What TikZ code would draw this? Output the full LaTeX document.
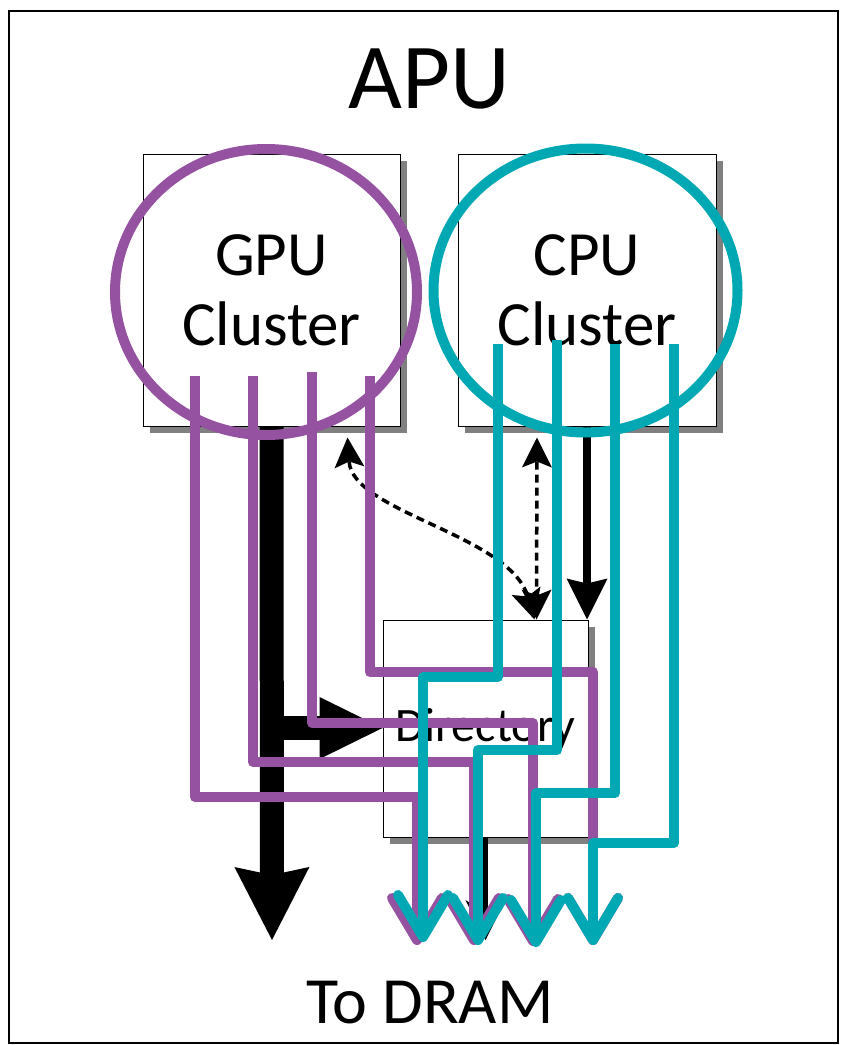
\documentclass[tikz,border=0pt]{standalone}
\usepackage{fontspec}
\setmainfont{Carlito}
\usetikzlibrary{arrows.meta,shadows}
\definecolor{gpupurple}{RGB}{148,82,160}
\definecolor{cputeal}{RGB}{0,168,180}
\begin{document}
\begin{tikzpicture}[x=1pt,y=-1pt,
  unit/.style={draw, line width=1pt, fill=white, align=center, inner sep=0pt,
    drop shadow={shadow xshift=7pt, shadow yshift=-7pt, fill=gray, opacity=1}},
  ring/.style={line width=10pt},
  lane/.style={line width=10pt, line join=round, -{Straight Barb[length=42pt, width=50pt, round]}},
  bus/.style={line width=24pt},
  coh/.style={line width=3.5pt, dash pattern=on 8pt off 5pt,
    {Stealth[length=30pt, width=30pt, inset=6pt, line width=0pt]}-{Stealth[length=30pt, width=30pt, inset=6pt, line width=0pt]}}]
\useasboundingbox (0,0) rectangle (842,1045);
\draw[line width=1.5pt] (9,11) rectangle (838,1043);
\node[font=\fontsize{93}{93}\selectfont] (apu) at (429,79) {APU};
\node[font=\fontsize{66}{66}\selectfont] (dram) at (430,1003) {To DRAM};
\node[unit, minimum width=257pt, minimum height=272pt, font=\fontsize{63}{70}\selectfont] (gpu) at (271.5,290) {GPU\\Cluster};
\node[unit, minimum width=258pt, minimum height=272pt, font=\fontsize{63}{70}\selectfont] (cpu) at (587,290) {CPU\\Cluster};
\node[unit, minimum width=205pt, minimum height=217pt, font=\fontsize{48}{48}\selectfont] (dir) at (485.5,728.5) {Directory};
\coordinate (gdram) at (272,940);
\coordinate (split) at (272,728);
\draw[line width=5pt, -{Stealth[length=40pt, width=40pt, line width=0pt]}] (dir.south) -- (dir.south |- gdram);
\draw[bus, -{Stealth[length=73pt, width=75pt, inset=8pt, line width=0pt]}] (gpu.south) -- (gdram);
\draw[bus, -{Triangle[length=63pt, width=62pt, line width=0pt]}] (split) -- (split -| dir.west);
\draw[line width=8pt, -{Stealth[length=41pt, width=41pt, inset=5pt, line width=0pt]}] (cpu.south) -- (cpu.south |- dir.north);
\draw[coh] ([xshift=-50pt, yshift=-11pt]cpu.south) -- ([xshift=51pt]dir.north);
\draw[coh] ([xshift=76pt, yshift=-11pt]gpu.south) .. controls +(5,75) and +(-25,-85) .. ([xshift=49pt]dir.north);
\draw[ring, gpupurple] (266,292) ellipse [x radius=151pt, y radius=143pt];
\draw[ring, cputeal] (585.5,290.5) ellipse [x radius=152pt, y radius=142pt];
\coordinate (g1) at (195,376);
\coordinate (g2) at (253,376);
\coordinate (g3) at (312,372);
\coordinate (g4) at (370,376);
\coordinate (c1) at (498,344);
\coordinate (c2) at (557,340);
\coordinate (c3) at (615,344);
\coordinate (c4) at (674,344);
\draw[lane, gpupurple] (g1) |- (417,797) -- (417,945);
\draw[lane, gpupurple] (g2) |- (474,762) -- (474,945);
\draw[lane, gpupurple] (g3) |- (533,723) -- (533,946);
\draw[lane, gpupurple] (g4) |- (593,672) -- (593,945);
\draw[lane, cputeal] (c1) |- (423,677) -- (423,942);
\draw[lane, cputeal] (c2) |- (478,750) -- (478,945);
\draw[lane, cputeal] (c3) |- (536,793) -- (536,947);
\draw[lane, cputeal] (c4) |- (593,843) -- (593,945);
\end{tikzpicture}
\end{document}
